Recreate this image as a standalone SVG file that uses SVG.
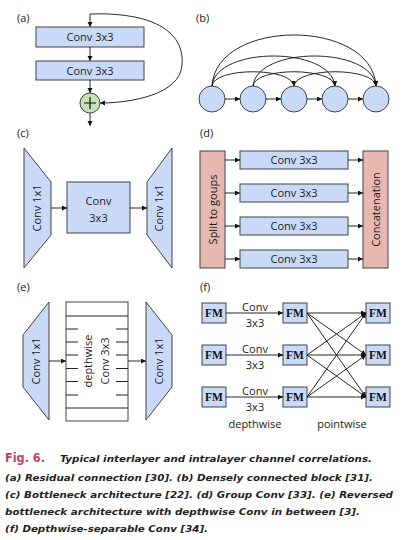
<svg xmlns="http://www.w3.org/2000/svg" width="408" height="540" viewBox="0 0 408 540">
<defs>
<marker id="ah" markerUnits="userSpaceOnUse" markerWidth="6" markerHeight="6" refX="5" refY="2.5" orient="auto">
<path d="M0,0 L5,2.5 L0,5 z" fill="#111"/>
</marker>
<style>
.lbl{font-family:"Open Sans","DejaVu Sans",sans-serif;font-size:11px;fill:#222}
.t{font-family:"Open Sans","DejaVu Sans",sans-serif;font-size:11px;fill:#222;text-anchor:middle}
.fm{font-family:"Liberation Serif","Times New Roman",serif;font-weight:bold;font-size:11.5px;fill:#111;text-anchor:middle}
.box{fill:#c9daf8;stroke:#444;stroke-width:1}
.sal{fill:#e6b8af;stroke:#444;stroke-width:1}
.wh{fill:#fff;stroke:#444;stroke-width:1}
.ln{fill:none;stroke:#111;stroke-width:0.9}
.c{fill:none;stroke:#111;stroke-width:0.9;marker-end:url(#ah)}
.cap{font-family:"DejaVu Sans",Verdana,sans-serif;font-weight:bold;font-style:italic;font-size:9.5px;fill:#222}
</style>
</defs>
<rect width="408" height="540" fill="#fff"/>

<!-- Panel labels -->
<text class="lbl" x="17" y="22">(a)</text>
<text class="lbl" x="196" y="22">(b)</text>
<text class="lbl" x="17" y="137">(c)</text>
<text class="lbl" x="200" y="137">(d)</text>
<text class="lbl" x="17" y="291">(e)</text>
<text class="lbl" x="200" y="291">(f)</text>

<!-- (a) -->
<g id="a_conv1"><rect class="box" x="36" y="27" width="108" height="20"/><text class="t" x="90" y="41">Conv 3x3</text></g>
<g id="a_conv2"><rect class="box" x="36" y="61" width="108" height="19"/><text class="t" x="90" y="75">Conv 3x3</text></g>
<g id="a_add"><circle cx="90" cy="103" r="10" fill="#c5e0b4" stroke="#444" stroke-width="1"/><path d="M84,103 H96 M90,97 V109" stroke="#111" stroke-width="1.2"/></g>

<!-- (b) -->
<g id="b_n1"><circle cx="212" cy="99" r="13" class="box"/></g>
<g id="b_n2"><circle cx="253" cy="99" r="13" class="box"/></g>
<g id="b_n3"><circle cx="294" cy="99" r="13" class="box"/></g>
<g id="b_n4"><circle cx="335" cy="99" r="13" class="box"/></g>
<g id="b_n5"><circle cx="376" cy="99" r="13" class="box"/></g>

<!-- (c) -->
<g id="c_conv1"><polygon class="box" points="24,148 51,182 51,235 24,268"/><text class="t" transform="translate(41,208) rotate(-90)">Conv 1x1</text></g>
<g id="c_conv3"><rect class="box" x="67" y="182" width="63" height="51"/><text class="t" x="98.5" y="205">Conv</text><text class="t" x="98.5" y="222">3x3</text></g>
<g id="c_conv2"><polygon class="box" points="147,182 172,148 172,268 147,235"/><text class="t" transform="translate(163,208) rotate(-90)">Conv 1x1</text></g>

<!-- (d) -->
<g id="d_split"><rect class="sal" x="200" y="151" width="25" height="117"/><text class="t" transform="translate(216.5,209.5) rotate(-90)">Split to goups</text></g>
<g id="d_g1"><rect class="box" x="240" y="151" width="108" height="18"/><text class="t" x="294" y="164">Conv 3x3</text></g>
<g id="d_g2"><rect class="box" x="240" y="184" width="108" height="18"/><text class="t" x="294" y="197">Conv 3x3</text></g>
<g id="d_g3"><rect class="box" x="240" y="217" width="108" height="18"/><text class="t" x="294" y="230">Conv 3x3</text></g>
<g id="d_g4"><rect class="box" x="240" y="250" width="108" height="18"/><text class="t" x="294" y="263">Conv 3x3</text></g>
<g id="d_concat"><rect class="sal" x="363" y="151" width="25" height="117"/><text class="t" transform="translate(379.5,209.5) rotate(-90)">Concatenation</text></g>

<!-- (e) -->
<g id="e_conv1"><polygon class="box" points="23,335 49,302 49,420 23,387"/><text class="t" transform="translate(40,361) rotate(-90)">Conv 1x1</text></g>
<g id="e_dw">
<rect class="wh" x="66" y="302" width="62" height="119"/>
<path d="M66,316 H128 M66,408 H128 M66,329 H78 M66,342 H78 M66,355 H78 M66,368.5 H78 M66,381.5 H78 M66,395 H78 M116,329 H128 M116,342 H128 M116,355 H128 M116,368.5 H128 M116,381.5 H128 M116,395 H128" stroke="#222" stroke-width="1" fill="none"/>
<text class="t" transform="translate(92,361) rotate(-90)">depthwise</text>
<text class="t" transform="translate(109,361) rotate(-90)">Conv 3x3</text>
</g>
<g id="e_conv2"><polygon class="box" points="146,302 172,335 172,387 146,420"/><text class="t" transform="translate(163,361) rotate(-90)">Conv 1x1</text></g>

<!-- (f) -->
<g id="f_a1"><rect class="box" x="202" y="303" width="24" height="20"/><text class="fm" x="214" y="317">FM</text></g>
<g id="f_a2"><rect class="box" x="202" y="345" width="24" height="20"/><text class="fm" x="214" y="359">FM</text></g>
<g id="f_a3"><rect class="box" x="202" y="387" width="24" height="20"/><text class="fm" x="214" y="401">FM</text></g>
<g id="f_b1"><rect class="box" x="283" y="303" width="24" height="20"/><text class="fm" x="295" y="317">FM</text></g>
<g id="f_b2"><rect class="box" x="283" y="345" width="24" height="20"/><text class="fm" x="295" y="359">FM</text></g>
<g id="f_b3"><rect class="box" x="283" y="387" width="24" height="20"/><text class="fm" x="295" y="401">FM</text></g>
<g id="f_c1"><rect class="box" x="366" y="303" width="24" height="20"/><text class="fm" x="378" y="317">FM</text></g>
<g id="f_c2"><rect class="box" x="366" y="345" width="24" height="20"/><text class="fm" x="378" y="359">FM</text></g>
<g id="f_c3"><rect class="box" x="366" y="387" width="24" height="20"/><text class="fm" x="378" y="401">FM</text></g>
<g id="f_labels">
<text class="t" x="255" y="311">Conv</text><text class="t" x="255" y="327">3x3</text>
<text class="t" x="255" y="353">Conv</text><text class="t" x="255" y="369">3x3</text>
<text class="t" x="255" y="395">Conv</text><text class="t" x="255" y="411">3x3</text>
<text class="t" x="255" y="428">depthwise</text>
<text class="t" x="342" y="428">pointwise</text>
</g>

<!-- connectors -->
<g id="connectors">
<!-- a -->
<line class="c" x1="90" y1="14" x2="90" y2="27"/>
<line class="c" x1="90" y1="47" x2="90" y2="61"/>
<line class="c" x1="90" y1="80" x2="90" y2="93"/>
<line class="c" x1="90" y1="113" x2="90" y2="126"/>
<path class="c" d="M90,14 C150,12 185,30 182,65 C180,95 130,103 100,103"/>
<!-- b -->
<line class="c" x1="225" y1="99" x2="240" y2="99"/>
<line class="c" x1="266" y1="99" x2="281" y2="99"/>
<line class="c" x1="307" y1="99" x2="322" y2="99"/>
<line class="c" x1="348" y1="99" x2="363" y2="99"/>
<path class="c" d="M212,86 C216,18 372,18 376,86"/>
<path class="c" d="M212,86 C216,46 331,46 335,86"/>
<path class="c" d="M212,86 C214,67 292,67 294,86"/>
<path class="c" d="M253,86 C257,46 372,46 376,86"/>
<path class="c" d="M253,86 C255,67 333,67 335,86"/>
<path class="c" d="M294,86 C296,67 374,67 376,86"/>
<!-- c -->
<line class="c" x1="51" y1="208" x2="67" y2="208"/>
<line class="c" x1="130" y1="208" x2="147" y2="208"/>
<!-- d -->
<line class="c" x1="225" y1="160" x2="240" y2="160"/>
<line class="c" x1="225" y1="193" x2="240" y2="193"/>
<line class="c" x1="225" y1="226" x2="240" y2="226"/>
<line class="c" x1="225" y1="259" x2="240" y2="259"/>
<line class="c" x1="348" y1="160" x2="363" y2="160"/>
<line class="c" x1="348" y1="193" x2="363" y2="193"/>
<line class="c" x1="348" y1="226" x2="363" y2="226"/>
<line class="c" x1="348" y1="259" x2="363" y2="259"/>
<!-- e -->
<line class="c" x1="49" y1="361" x2="66" y2="361"/>
<line class="c" x1="128" y1="361" x2="146" y2="361"/>
<!-- f -->
<line class="c" x1="226" y1="313" x2="283" y2="313"/>
<line class="c" x1="226" y1="355" x2="283" y2="355"/>
<line class="c" x1="226" y1="397" x2="283" y2="397"/>
<line class="c" x1="307" y1="313" x2="366" y2="313"/>
<line class="c" x1="307" y1="313" x2="366" y2="355"/>
<line class="c" x1="307" y1="313" x2="366" y2="397"/>
<line class="c" x1="307" y1="355" x2="366" y2="313"/>
<line class="c" x1="307" y1="355" x2="366" y2="355"/>
<line class="c" x1="307" y1="355" x2="366" y2="397"/>
<line class="c" x1="307" y1="397" x2="366" y2="313"/>
<line class="c" x1="307" y1="397" x2="366" y2="355"/>
<line class="c" x1="307" y1="397" x2="366" y2="397"/>
</g>

<!-- caption -->
<g id="caption">
<text x="5" y="462" font-family="'DejaVu Sans',Verdana,sans-serif" font-weight="bold" font-size="11.5" fill="#c8405f" textLength="40" lengthAdjust="spacingAndGlyphs">Fig. 6.</text>
<text class="cap" x="60" y="462" textLength="312" lengthAdjust="spacingAndGlyphs">Typical interlayer and intralayer channel correlations.</text>
<text class="cap" x="5" y="481" textLength="368" lengthAdjust="spacingAndGlyphs">(a) Residual connection [30]. (b) Densely connected block [31].</text>
<text class="cap" x="5" y="498" textLength="388" lengthAdjust="spacingAndGlyphs">(c) Bottleneck architecture [22]. (d) Group Conv [33]. (e) Reversed</text>
<text class="cap" x="5" y="515" textLength="355" lengthAdjust="spacingAndGlyphs">bottleneck architecture with depthwise Conv in between [3].</text>
<text class="cap" x="5" y="532" textLength="203" lengthAdjust="spacingAndGlyphs">(f) Depthwise-separable Conv [34].</text>
</g>
</svg>
